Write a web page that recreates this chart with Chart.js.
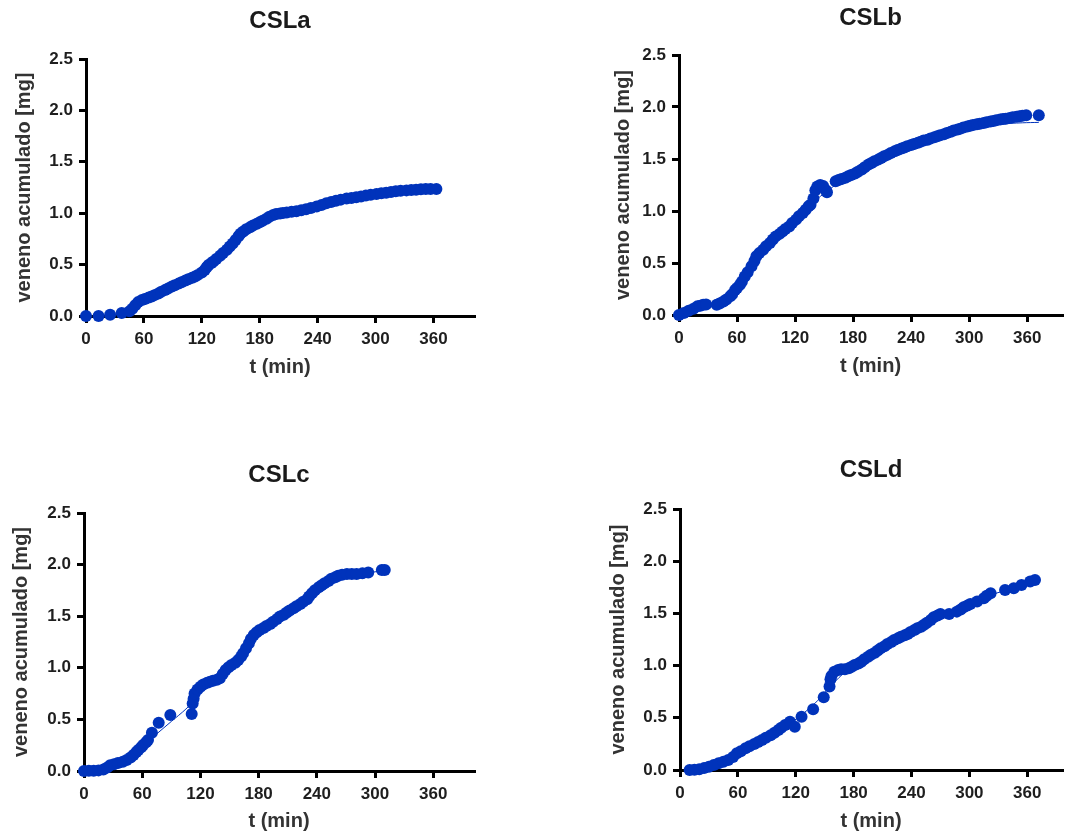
<!DOCTYPE html>
<html>
<head>
<meta charset="utf-8">
<title>CSL veneno acumulado</title>
<script src="https://cdn.jsdelivr.net/npm/chart.js@4.4.1/dist/chart.umd.min.js"></script>
<style>
  html, body { margin: 0; padding: 0; background: #fff; }
  #wrap { position: relative; width: 1068px; height: 838px; }
  .panel { position: absolute; width: 534px; height: 419px; }
</style>
</head>
<body>
<div id="wrap">
  <div class="panel" style="left:0;top:0"><canvas id="cslA" width="534" height="419"></canvas></div>
  <div class="panel" style="left:534px;top:0"><canvas id="cslB" width="534" height="419"></canvas></div>
  <div class="panel" style="left:0;top:419px"><canvas id="cslC" width="534" height="419"></canvas></div>
  <div class="panel" style="left:534px;top:419px"><canvas id="cslD" width="534" height="419"></canvas></div>
</div>
<script>
// ------------------------------
// Data (t in min, veneno acumulado in mg)
// ------------------------------
const tA = [0, 13, 25, 37, 45, 48, 51, 54, 58, 61, 65, 68, 71, 75, 78, 82, 85, 89, 92, 96, 99, 103, 106, 110, 113, 116, 120, 123, 125, 127, 130, 132, 135, 139, 142, 146, 149, 152, 155, 158, 160, 163, 166, 170, 173, 177, 180, 183, 187, 190, 194, 197, 201, 204, 208, 213, 218, 223, 228, 233, 239, 244, 249, 254, 259, 264, 270, 275, 280, 285, 290, 295, 301, 306, 311, 316, 321, 326, 332, 337, 342, 347, 352, 357, 363];
const vA = [0, 0, 0.012, 0.03, 0.045, 0.07, 0.105, 0.135, 0.155, 0.165, 0.18, 0.19, 0.203, 0.22, 0.235, 0.253, 0.268, 0.287, 0.3, 0.315, 0.328, 0.345, 0.357, 0.372, 0.384, 0.4, 0.423, 0.447, 0.475, 0.497, 0.515, 0.53, 0.555, 0.585, 0.612, 0.645, 0.675, 0.705, 0.74, 0.775, 0.8, 0.822, 0.843, 0.864, 0.88, 0.897, 0.912, 0.927, 0.946, 0.965, 0.982, 0.992, 0.998, 1.003, 1.007, 1.013, 1.019, 1.028, 1.038, 1.05, 1.065, 1.08, 1.096, 1.11, 1.122, 1.132, 1.142, 1.149, 1.155, 1.163, 1.171, 1.179, 1.187, 1.194, 1.2, 1.207, 1.213, 1.218, 1.222, 1.226, 1.229, 1.232, 1.235, 1.236, 1.236];

const tB = [0, 5, 10, 15, 19, 22, 25, 28, 39, 42, 46, 49, 53, 55, 58, 60, 63, 65, 68, 71, 75, 78, 80, 83, 87, 90, 94, 97, 100, 104, 107, 110, 114, 117, 121, 124, 128, 131, 134, 136, 139, 141, 143, 146, 149, 152, 153, 162, 165, 168, 172, 175, 178, 182, 185, 189, 192, 196, 199, 202, 206, 209, 212, 216, 219, 223, 226, 230, 233, 236, 240, 243, 247, 250, 253, 257, 260, 264, 267, 270, 274, 277, 281, 284, 288, 291, 294, 298, 301, 304, 308, 311, 315, 318, 322, 325, 328, 332, 335, 338, 342, 345, 349, 352, 355, 359, 372];
const vB = [0, 0.02, 0.04, 0.06, 0.083, 0.09, 0.099, 0.1, 0.099, 0.11, 0.13, 0.15, 0.18, 0.2, 0.24, 0.26, 0.29, 0.32, 0.37, 0.41, 0.468, 0.52, 0.564, 0.595, 0.628, 0.66, 0.692, 0.725, 0.756, 0.78, 0.804, 0.826, 0.852, 0.885, 0.917, 0.95, 0.981, 1.012, 1.045, 1.06, 1.12, 1.2, 1.235, 1.25, 1.24, 1.2, 1.18, 1.285, 1.297, 1.308, 1.32, 1.334, 1.347, 1.36, 1.378, 1.398, 1.42, 1.446, 1.462, 1.478, 1.494, 1.51, 1.526, 1.542, 1.558, 1.574, 1.587, 1.6, 1.611, 1.622, 1.634, 1.645, 1.657, 1.667, 1.677, 1.686, 1.697, 1.709, 1.718, 1.728, 1.739, 1.75, 1.762, 1.773, 1.783, 1.792, 1.802, 1.812, 1.82, 1.828, 1.834, 1.84, 1.847, 1.853, 1.86, 1.866, 1.872, 1.879, 1.884, 1.888, 1.895, 1.901, 1.906, 1.911, 1.915, 1.92, 1.92];

const tC = [0, 5, 10, 15, 20, 24, 27, 31, 35, 40, 44, 48, 51, 54, 56, 59, 61, 64, 66, 70, 77, 89, 111, 112, 113, 114, 117, 120, 123, 127, 130, 133, 137, 140, 143, 146, 149, 152, 156, 159, 162, 164, 167, 170, 172, 175, 178, 181, 185, 188, 192, 195, 199, 202, 206, 209, 212, 216, 219, 223, 226, 230, 232, 235, 238, 242, 245, 248, 252, 255, 259, 262, 266, 271, 276, 281, 287, 293, 307, 310];
const vC = [0, 0.002, 0.003, 0.006, 0.015, 0.035, 0.055, 0.066, 0.078, 0.09, 0.106, 0.13, 0.155, 0.185, 0.203, 0.23, 0.252, 0.278, 0.3, 0.371, 0.468, 0.542, 0.552, 0.655, 0.7, 0.752, 0.79, 0.817, 0.838, 0.855, 0.866, 0.875, 0.885, 0.898, 0.94, 0.979, 1.005, 1.027, 1.05, 1.076, 1.11, 1.14, 1.19, 1.237, 1.28, 1.318, 1.345, 1.366, 1.385, 1.405, 1.425, 1.447, 1.472, 1.496, 1.515, 1.535, 1.555, 1.577, 1.597, 1.619, 1.64, 1.664, 1.69, 1.722, 1.752, 1.781, 1.8, 1.82, 1.842, 1.862, 1.878, 1.891, 1.902, 1.91, 1.91, 1.91, 1.915, 1.923, 1.948, 1.948];

const tD = [10, 15, 20, 25, 30, 35, 40, 45, 50, 55, 59, 63, 68, 72, 77, 81, 85, 89, 94, 98, 102, 105, 109, 114, 119, 126, 138, 149, 155, 156, 157, 160, 164, 167, 171, 175, 178, 181, 185, 188, 191, 195, 198, 202, 205, 208, 212, 215, 219, 222, 226, 229, 233, 236, 239, 243, 246, 250, 253, 256, 260, 263, 267, 270, 279, 287, 291, 294, 298, 301, 308, 315, 318, 322, 337, 346, 354, 363, 368];
const vD = [0, 0.002, 0.006, 0.018, 0.032, 0.048, 0.064, 0.08, 0.096, 0.125, 0.16, 0.18, 0.208, 0.228, 0.25, 0.268, 0.287, 0.308, 0.332, 0.357, 0.383, 0.405, 0.431, 0.463, 0.415, 0.511, 0.582, 0.697, 0.8, 0.87, 0.9, 0.942, 0.958, 0.964, 0.964, 0.975, 0.99, 1.005, 1.02, 1.037, 1.06, 1.085, 1.105, 1.124, 1.145, 1.165, 1.186, 1.207, 1.226, 1.245, 1.262, 1.277, 1.29, 1.303, 1.322, 1.341, 1.357, 1.373, 1.392, 1.411, 1.437, 1.462, 1.48, 1.494, 1.494, 1.517, 1.538, 1.558, 1.575, 1.59, 1.613, 1.645, 1.67, 1.693, 1.725, 1.741, 1.773, 1.805, 1.821];

// fitted curves (thin line, mostly hidden under the points)
const fitTB = [0, 20, 40, 55, 65, 75, 90, 105, 120, 135, 150, 165, 180, 200, 220, 240, 260, 280, 300, 330, 355, 372];
const fitVB = [0, 0.04, 0.12, 0.22, 0.32, 0.46, 0.66, 0.8, 0.92, 1.05, 1.17, 1.27, 1.35, 1.46, 1.56, 1.63, 1.69, 1.75, 1.8, 1.835, 1.848, 1.852];
const fitTC = [0, 20, 40, 55, 65, 75, 90, 105, 115, 125, 140, 160, 180, 200, 220, 240, 260, 280, 300, 312];
const fitVC = [0, 0.01, 0.07, 0.19, 0.28, 0.36, 0.48, 0.6, 0.7, 0.8, 0.93, 1.1, 1.3, 1.46, 1.6, 1.76, 1.87, 1.91, 1.93, 1.945];
const fitTD = [10, 30, 50, 70, 90, 110, 125, 140, 150, 160, 170, 180, 200, 230, 260, 290, 320, 345, 368];
const fitVD = [0, 0.03, 0.1, 0.2, 0.3, 0.42, 0.52, 0.64, 0.74, 0.84, 0.93, 1.0, 1.12, 1.28, 1.43, 1.55, 1.67, 1.74, 1.81];

const yTicks = [0, 0.5, 1.0, 1.5, 2.0, 2.5];
const xStep = 60;

// ------------------------------
// Shared look
// ------------------------------
const BLUE = "#0033bb";
Chart.defaults.font.family = '"Liberation Sans", Arial, Helvetica, sans-serif';
Chart.defaults.animation = false;

const toPoints = (ts, vs) => ts.map((t, i) => ({ x: t, y: vs[i] }));

// box = paddings / axis sizes tuned so the plot areas sit where the original ones do
function buildPanel(id, title, ts, vs, fitT, fitV, box) {
  const datasets = [{
    label: title,
    data: toPoints(ts, vs),
    backgroundColor: BLUE,
    borderColor: BLUE,
    pointRadius: 6,
    pointBorderWidth: 0,
    clip: false,
    order: 1
  }];
  if (fitT) {
    datasets.push({
      label: title + " fit",
      data: toPoints(fitT, fitV),
      showLine: true,
      borderColor: BLUE,
      borderWidth: 1,
      pointRadius: 0,
      tension: 0.3,
      clip: false,
      order: 2
    });
  }

  const tickFont = { size: 17, weight: "bold" };
  const axisTitleFont = { size: 20, weight: "bold" };

  return new Chart(document.getElementById(id), {
    type: "scatter",
    data: { datasets },
    options: {
      responsive: false,
      layout: { padding: { left: box.pl, right: box.pr, top: 0, bottom: box.pb } },
      plugins: {
        legend: { display: false },
        tooltip: { enabled: false },
        title: {
          display: true,
          text: title,
          fullSize: false,
          color: "#1a1a1a",
          font: { size: 24, weight: "bold" },
          padding: { top: box.tt, bottom: box.tb }
        }
      },
      scales: {
        x: {
          type: "linear",
          min: 0,
          max: box.xMax,
          afterFit: s => { s.height = box.xH; },
          ticks: { stepSize: xStep, includeBounds: false, autoSkip: false, maxRotation: 0, padding: 6, color: "#1e1e1e", font: tickFont },
          grid: { drawOnChartArea: false, drawTicks: true, tickLength: 7, color: "#000", lineWidth: 3 },
          border: { display: true, color: "#000", width: 3 },
          title: { display: true, text: "t (min)", color: "#333", font: axisTitleFont, padding: 0 }
        },
        y: {
          type: "linear",
          min: 0,
          max: 2.5,
          afterFit: s => { s.width = box.yW; },
          afterBuildTicks: s => { s.ticks = yTicks.map(v => ({ value: v })); },
          ticks: { padding: 6, color: "#1e1e1e", font: tickFont, callback: v => Number(v).toFixed(1) },
          grid: { drawOnChartArea: false, drawTicks: true, tickLength: 7, color: "#000", lineWidth: 3 },
          border: { display: true, color: "#000", width: 3 },
          title: { display: true, text: "veneno acumulado [mg]", color: "#333", font: axisTitleFont, padding: 0 }
        }
      }
    }
  });
}

// ------------------------------
// Four panels
// ------------------------------
buildPanel("cslA", "CSLa", tA, vA, null, null,
  { pl: 12, yW: 74, pr: 60, pb: 40, xH: 63, tt: 6.6, tb: 23.6, xMax: 402 });
buildPanel("cslB", "CSLb", tB, vB, fitTB, fitVB,
  { pl: 77, yW: 68, pr: 2, pb: 40.3, xH: 63.7, tt: 3.6, tb: 22.6, xMax: 396 });
buildPanel("cslC", "CSLc", tC, vC, fitTC, fitVC,
  { pl: 9.7, yW: 74.3, pr: 60, pb: 4.3, xH: 62.7, tt: 41.6, tb: 23.6, xMax: 402 });
buildPanel("cslD", "CSLd", tD, vD, fitTD, fitVD,
  { pl: 72.3, yW: 73.7, pr: 3, pb: 4.3, xH: 63.7, tt: 36.6, tb: 24.6, xMax: 396 });
</script>
</body>
</html>
